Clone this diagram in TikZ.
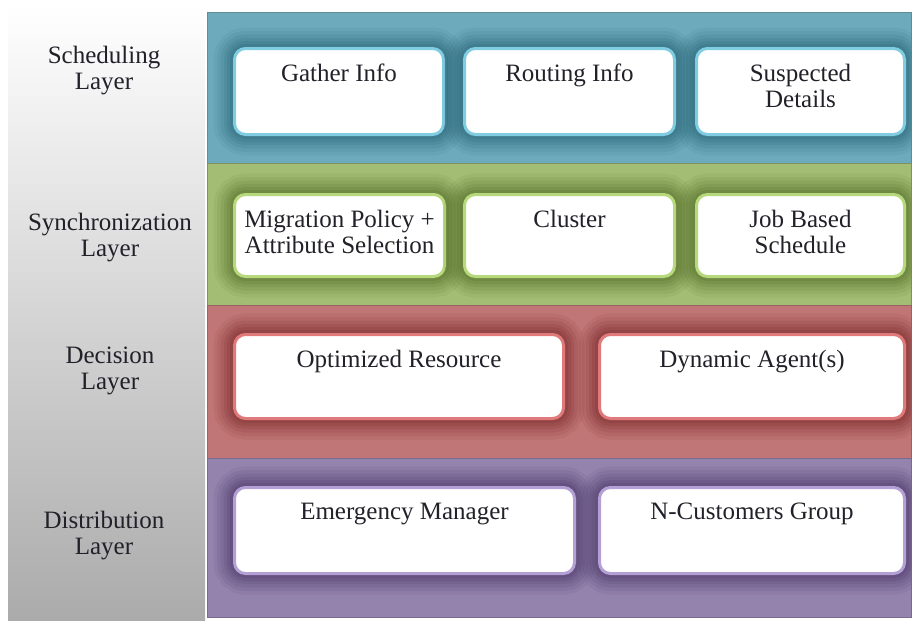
\documentclass[tikz,border=0pt]{standalone}
\usepackage{fontspec}
\setmainfont{Liberation Serif}
\usepackage{xcolor}
\usetikzlibrary{positioning}

\definecolor{schedband}{RGB}{108,170,188}
\definecolor{scheddark}{RGB}{30,90,106}
\definecolor{schedrim}{RGB}{128,204,224}
\definecolor{syncband}{RGB}{164,189,116}
\definecolor{syncdark}{RGB}{70,98,30}
\definecolor{syncrim}{RGB}{184,216,126}
\definecolor{decband}{RGB}{192,118,118}
\definecolor{decdark}{RGB}{112,30,32}
\definecolor{decrim}{RGB}{224,122,122}
\definecolor{distband}{RGB}{148,131,173}
\definecolor{distdark}{RGB}{64,44,92}
\definecolor{distrim}{RGB}{180,160,212}
\definecolor{txt}{RGB}{34,32,40}

\begin{document}
\begin{tikzpicture}[
                  x = 1pt,
                  y = -1pt,
  every node/.style = {font=\fontsize{25}{25.5}\selectfont, text=txt, align=center, inner sep=0pt},
        band/.style = {fill=#1band, draw=#1dark!70, line width=0.8pt},
        glow/.style = {preaction={draw=#1dark, draw opacity=0.07, line width=42pt},
                       preaction={draw=#1dark, draw opacity=0.09, line width=35pt},
                       preaction={draw=#1dark, draw opacity=0.11, line width=28pt},
                       preaction={draw=#1dark, draw opacity=0.13, line width=21pt},
                       preaction={draw=#1dark, draw opacity=0.15, line width=15pt},
                       preaction={draw=#1dark, draw opacity=0.17, line width=9pt}},
        cell/.style = {glow=#1, rounded corners=11pt, fill=white, draw=#1rim,
                       line width=3pt, anchor=north west},
    celltext/.style = {anchor=north, yshift=-17pt},
       layer/.style = {anchor=north},
                   ]
\useasboundingbox (0,0) rectangle (913,625);

% left column with the layer names
\shade[top color=white, bottom color=black!33] (8,5) rectangle (205,620);
\node[layer] (lsched) at (104,46)  {Scheduling\\Layer};
\node[layer] (lsync)  at (110,213) {Synchronization\\Layer};
\node[layer] (ldec)   at (110,347) {Decision\\Layer};
\node[layer] (ldist)  at (104,511) {Distribution\\Layer};

% scheduling
\path[band=sched] (207,12) rectangle (911,163);
\begin{scope}
  \clip (207,12) rectangle (911,163);
  \node[cell=sched, minimum width=209pt, minimum height=86pt,
        label={[celltext]north:Gather Info}] (gather) at (233,47) {};
  \node[cell=sched, minimum width=210pt, minimum height=86pt,
        label={[celltext]north:Routing Info}] (routing) at (463,47) {};
  \node[cell=sched, minimum width=208pt, minimum height=86pt,
        label={[celltext]north:{Suspected\\Details}}] (suspected) at (695,47) {};
\end{scope}

% synchronization
\path[band=sync] (207,163) rectangle (911,305);
\begin{scope}
  \clip (207,163) rectangle (911,305);
  \node[cell=sync, minimum width=210pt, minimum height=82pt,
        label={[celltext]north:{Migration Policy +\\Attribute Selection}}] (migration) at (233,193) {};
  \node[cell=sync, minimum width=210pt, minimum height=82pt,
        label={[celltext]north:Cluster}] (cluster) at (463,193) {};
  \node[cell=sync, minimum width=208pt, minimum height=82pt,
        label={[celltext]north:{Job Based\\Schedule}}] (jobsched) at (695,193) {};
\end{scope}

% decision
\path[band=dec] (207,305) rectangle (911,458);
\begin{scope}
  \clip (207,305) rectangle (911,458);
  \node[cell=dec, minimum width=329pt, minimum height=84pt,
        label={[celltext]north:Optimized Resource}] (optimized) at (233,333) {};
  \node[cell=dec, minimum width=305pt, minimum height=84pt,
        label={[celltext]north:Dynamic Agent(s)}] (dynamic) at (598,333) {};
\end{scope}

% distribution
\path[band=dist] (207,458) rectangle (911,617);
\begin{scope}
  \clip (207,458) rectangle (911,617);
  \node[cell=dist, minimum width=340pt, minimum height=86pt,
        label={[celltext]north:Emergency Manager}] (emergency) at (233,486) {};
  \node[cell=dist, minimum width=305pt, minimum height=86pt,
        label={[celltext]north:N-Customers Group}] (customers) at (598,486) {};
\end{scope}
\end{tikzpicture}
\end{document}
